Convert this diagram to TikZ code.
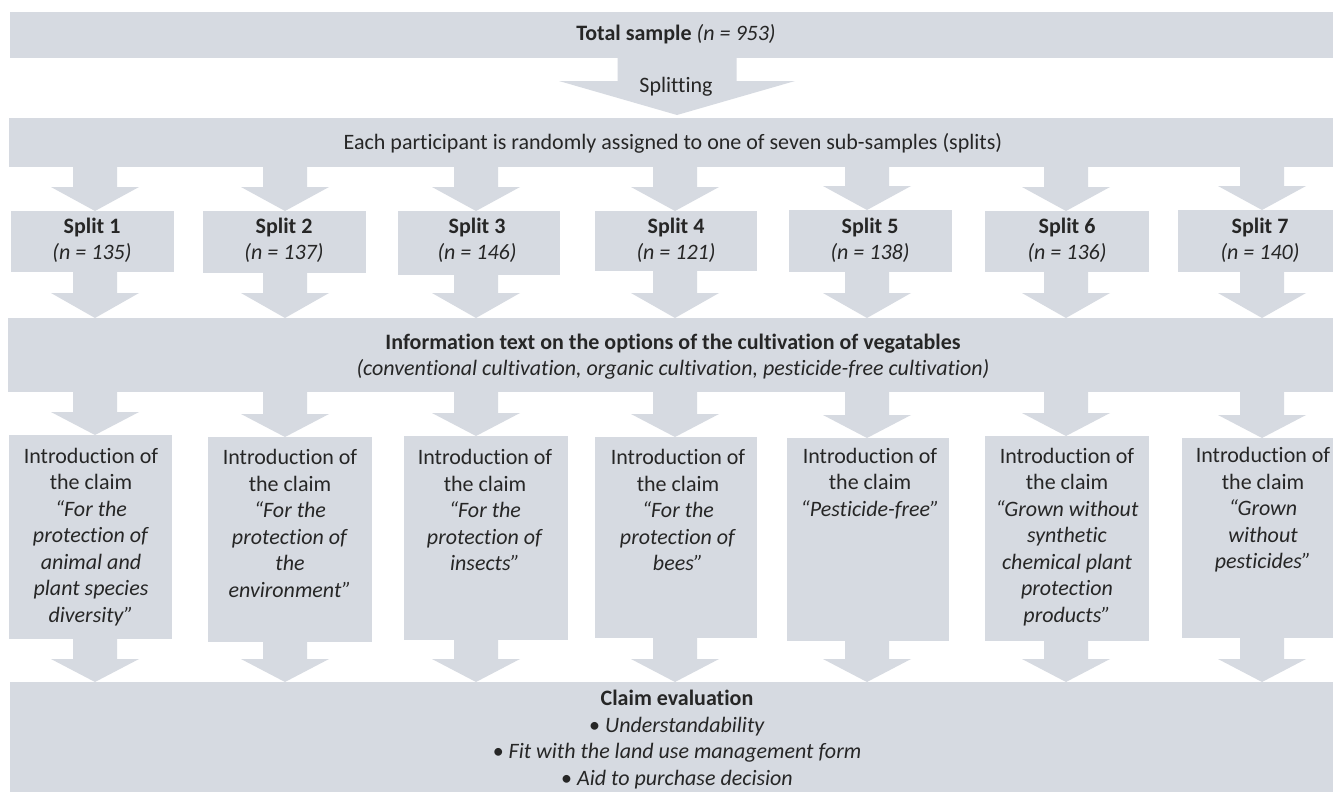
\documentclass[tikz,border=0pt]{standalone}
\usepackage{fontspec}
\setmainfont{Carlito}[Ligatures=CommonOff]
\usetikzlibrary{calc}
\definecolor{boxgray}{HTML}{D6DAE1}
\definecolor{txt}{HTML}{262626}
\newcommand\blockarrow[5]{%
  \fill[arrowfill] let \p1=#1, \p2=#2 in
    (\x2-#3,\y1+1pt) -- (\x2+#3,\y1+1pt) -- (\x2+#3,\y2+#5) -- (\x2+#4,\y2+#5)
    -- (\x2,\y2) -- (\x2-#4,\y2+#5) -- (\x2-#3,\y2+#5) -- cycle;}
\begin{document}
\begin{tikzpicture}[x=1pt,y=-1pt,
  panel/.style={fill=boxgray,draw=none,inner sep=0pt,outer sep=0pt,anchor=north west},
  lbl/.style={text=txt,align=center,inner sep=0pt,font=\fontsize{22pt}{26.5pt}\selectfont},
  arrowfill/.style={fill=boxgray}]
\useasboundingbox (0,0) rectangle (1333,792);
\fill[white] (0,0) rectangle (1333,792);
% column positions
\coordinate (k1) at (95,0);
\coordinate (k2) at (285,0);
\coordinate (k3) at (476,0);
\coordinate (k4) at (675,0);
\coordinate (k5) at (867,0);
\coordinate (k6) at (1066,0);
\coordinate (k7) at (1262,0);
\coordinate (ksp) at (677,0);
% panels
\node[panel,minimum width=1323pt,minimum height=46pt] (total) at (10,12) {};
\node[panel,minimum width=1324pt,minimum height=49pt] (bar2) at (9,118) {};
\node[panel,minimum width=163pt,minimum height=61pt] (s1) at (11,211) {};
\node[panel,minimum width=163pt,minimum height=62pt] (s2) at (203,211) {};
\node[panel,minimum width=162pt,minimum height=64pt] (s3) at (398,211) {};
\node[panel,minimum width=162pt,minimum height=60pt] (s4) at (595,211) {};
\node[panel,minimum width=163pt,minimum height=62pt] (s5) at (789,210) {};
\node[panel,minimum width=164pt,minimum height=61pt] (s6) at (985,211) {};
\node[panel,minimum width=155pt,minimum height=62pt] (s7) at (1178,210) {};
\node[panel,minimum width=1325pt,minimum height=74pt] (info) at (8,318) {};
\node[panel,minimum width=163pt,minimum height=204pt] (c1) at (9,435) {};
\node[panel,minimum width=164pt,minimum height=205pt] (c2) at (208,437) {};
\node[panel,minimum width=164pt,minimum height=204pt] (c3) at (404,436) {};
\node[panel,minimum width=162pt,minimum height=201pt] (c4) at (595,437) {};
\node[panel,minimum width=162pt,minimum height=203pt] (c5) at (787,438) {};
\node[panel,minimum width=164pt,minimum height=205pt] (c6) at (985,436) {};
\node[panel,minimum width=151pt,minimum height=200pt] (c7) at (1182,438) {};
\node[panel,minimum width=1323pt,minimum height=110pt] (bottom) at (10,682) {};
% block arrows
\blockarrow{(total.south -| ksp)}{($(bar2.north -| ksp)+(0,-3)$)}{59.5pt}{118pt}{34pt}
\foreach \i in {1,...,7}{
  \blockarrow{(bar2.south -| k\i)}{(s\i.north -| k\i)}{22pt}{44pt}{24pt}
  \blockarrow{(s\i.south -| k\i)}{(info.north -| k\i)}{22pt}{44pt}{25pt}
  \blockarrow{(info.south -| k\i)}{(c\i.north -| k\i)}{22pt}{44pt}{23pt}
  \blockarrow{(c\i.south -| k\i)}{(bottom.north -| k\i)}{22pt}{44pt}{23pt}
}
% texts
\node[lbl] (ttotal) at (676,34) {\textbf{Total sample} \textit{(n = 953)}};
\node[lbl] (tsplit) at (676,87) {Splitting};
\node[lbl] (tassign) at (673,143) {Each participant is randomly assigned to one of seven sub-samples (splits)};
\node[lbl] (ts1) at (92,240.5) {\textbf{Split 1}\\\textit{(n = 135)}};
\node[lbl] (ts2) at (284,240.5) {\textbf{Split 2}\\\textit{(n = 137)}};
\node[lbl] (ts3) at (477,240.5) {\textbf{Split 3}\\\textit{(n = 146)}};
\node[lbl] (ts4) at (676,240.5) {\textbf{Split 4}\\\textit{(n = 121)}};
\node[lbl] (ts5) at (870,240.5) {\textbf{Split 5}\\\textit{(n = 138)}};
\node[lbl] (ts6) at (1067,240.5) {\textbf{Split 6}\\\textit{(n = 136)}};
\node[lbl] (ts7) at (1260,240.5) {\textbf{Split 7}\\\textit{(n = 140)}};
\node[lbl] (tinfo) at (673,356.5) {\textbf{Information text on the options of the cultivation of vegatables}\\\textit{(conventional cultivation, organic cultivation, pesticide-free cultivation)}};
\node[lbl] (tc1) at (91,537) {Introduction of\\the claim\\\textit{“For the}\\\textit{protection of}\\\textit{animal and}\\\textit{plant species}\\\textit{diversity”}};
\node[lbl] (tc2) at (290,523.5) {Introduction of\\the claim\\\textit{“For the}\\\textit{protection of}\\\textit{the}\\\textit{environment”}};
\node[lbl] (tc3) at (485,510) {Introduction of\\the claim\\\textit{“For the}\\\textit{protection of}\\\textit{insects”}};
\node[lbl] (tc4) at (678,510) {Introduction of\\the claim\\\textit{“For the}\\\textit{protection of}\\\textit{bees”}};
\node[lbl] (tc5) at (870,483.5) {Introduction of\\the claim\\\textit{“Pesticide-free”}};
\node[lbl] (tc6) at (1067,537) {Introduction of\\the claim\\\textit{“Grown without}\\\textit{synthetic}\\\textit{chemical plant}\\\textit{protection}\\\textit{products”}};
\node[lbl] (tc7) at (1263,510) {Introduction of\\the claim\\\textit{“Grown}\\\textit{without}\\\textit{pesticides”}};
\node[lbl] (tbottom) at (677,739.5) {\textbf{Claim evaluation}\\• \textit{Understandability}\\• \textit{Fit with the land use management form}\\• \textit{Aid to purchase decision}};
\end{tikzpicture}
\end{document}
